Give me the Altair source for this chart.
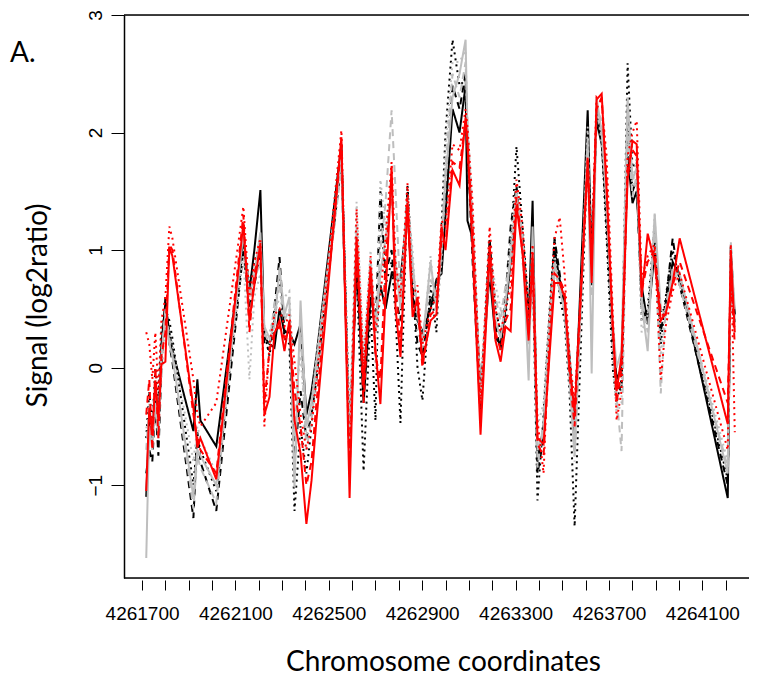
import altair as alt
import pandas as pd

# Probe positions (chromosome coordinates)
positions = [4261718, 4261731, 4261744, 4261757, 4261770, 4261783, 4261800, 4261817, 4261830,
             4261920, 4261937, 4261950, 4262018, 4262134, 4262160, 4262181, 4262207, 4262224, 4262246,
             4262267, 4262289, 4262310, 4262331, 4262353, 4262379, 4262404, 4262426, 4262447,
             4262554, 4262589, 4262619, 4262649, 4262679, 4262700, 4262721, 4262743, 4262769, 4262786, 4262807,
             4262837, 4262859, 4262880, 4262901, 4262936, 4262961, 4262983, 4263000, 4263030, 4263060, 4263086, 4263094,
             4263116, 4263150, 4263189, 4263214, 4263236, 4263257, 4263279, 4263304, 4263330, 4263356, 4263373, 4263394,
             4263420, 4263446, 4263467, 4263489, 4263510, 4263531, 4263553, 4263609, 4263626, 4263647, 4263669, 4263690, 4263716,
             4263733, 4263754, 4263780, 4263801, 4263819, 4263840, 4263866, 4263896, 4263922, 4263943, 4263973, 4264003,
             4264209, 4264222, 4264239]

black_solid = [-1.1, -0.4, -0.6, -0.2, -0.5, 0.2, 0.55, 0.3, 0.15, -0.54, -0.1, -0.45, -0.67,
               1.1, 0.65, 1.0, 1.51, 0.26, 0.2, 0.17, 0.5, 0.3, 0.3, 0.2, 0.37, -0.4, -0.2, 0.1,
               1.9, -0.8, 0.9, -0.3, 0.6, 0.4, 0.7, 0.5, 0.8, 0.75, 0.75,
               1.35, 0.6, 0.4, 0.3, 0.5, 0.75, 0.8, 1.3, 2.2, 2.0, 2.4, 1.25,
               1.1, -0.2, 0.8, 0.25, 0.2, 0.5, 0.9, 1.4, 1.1, 0.4, 1.42, -0.8,
               -0.5, 0.3, 1.0, 0.75, 0.55, 0.1, -0.5, 2.19, 0.9, 2.1, 1.9, 1.3, 0.3,
               -0.1, 0.0, 1.8, 1.4, 1.5, 0.7, 0.37, 1.0, 0.48, 0.5, 0.9, 0.77, -1.11, 0.9, 0.45]
black_dashed = [-0.9, -0.7, -0.8, -0.3, -0.75, 0.0, 0.6, 0.2, 0.05, -1.28, -0.55, -0.8, -1.22,
                1.0, 0.5, 0.7, 1.0, 0.2, 0.15, 0.5, 0.94, 0.3, 0.35, -0.8, -0.2, -0.6, -0.4, -0.1,
                1.75, -0.7, 1.0, -0.2, 0.7, 0.3, 1.5, 0.8, 1.0, 0.6, 0.4,
                1.5, 0.7, 0.2, 0.1, 0.6, 0.55, 1.0, 1.5, 2.4, 2.2, 2.5, 1.9,
                0.9, -0.4, 1.1, 0.35, 0.15, 0.6, 1.2, 1.55, 1.0, 0.3, 1.0, -0.9,
                -0.6, 0.4, 1.1, 0.8, 0.5, 0.0, -0.7, 2.0, 0.7, 2.2, 2.0, 1.2, 0.2,
                -0.15, -0.2, 2.2, 1.5, 1.6, 0.5, 0.4, 1.1, 0.3, 0.55, 1.1, 0.7, -1.0, 1.05, 0.4]
black_dotted = [-0.6, -0.2, -0.5, 0.0, -0.3, 0.3, 0.5, 0.4, 0.25, -1.0, -0.6, -0.7, -1.05,
                1.05, 0.7, 0.9, 1.05, 0.3, 0.1, 0.4, 0.8, 0.25, 0.2, -1.22, -0.5, -0.9, -0.5, 0.0,
                1.85, -0.5, 0.85, -0.88, 0.5, -0.45, 1.45, 0.7, 0.9, 0.45, -0.47,
                1.55, 0.8, 0.0, -0.28, 0.7, 0.3, 1.2, 2.0, 2.79, 2.4, 2.45, 1.8,
                1.1, -0.35, 1.0, 0.5, 0.3, 0.4, 1.0, 1.88, 1.2, 0.5, 0.9, -1.13,
                -0.4, 0.5, 1.11, 0.6, 0.4, -0.2, -1.35, 1.9, 1.0, 2.15, 1.95, 1.1, 0.0,
                -0.3, -0.1, 2.59, 1.7, 1.75, 0.4, 0.5, 1.2, 0.2, 0.6, 1.0, 0.75, -0.95, 0.95, 0.35]
gray_solid = [-1.62, -0.5, -0.7, -0.3, -0.6, 0.1, 0.45, 0.2, 0.1, -1.1, -0.7, -0.75, -1.0,
              1.15, 0.6, 0.8, 1.15, 0.35, 0.25, 0.35, 0.85, 0.45, 0.6, -1.02, 0.57, -0.5, -0.3, 0.05,
              1.8, -0.75, 1.2, -0.1, 0.9, 0.3, 0.8, 1.1, 1.5, 0.9, 0.5,
              1.45, 0.9, 0.45, 0.2, 0.9, 0.5, 1.0, 1.6, 2.3, 2.5, 2.79, 2.0,
              1.2, -0.3, 0.9, 0.4, 0.25, 0.55, 0.95, 1.5, 1.05, -0.11, 1.2, -0.7,
              -0.55, 0.4, 0.9, 0.65, 0.5, -0.1, -0.75, 1.95, -0.05, 2.3, 2.0, 1.4, 0.4,
              0.0, 0.15, 2.3, 1.6, 1.7, 0.55, 0.14, 1.31, 0.5, 0.45, 0.8, 0.8, -0.9, 1.0, 0.5]
gray_dashed = [-0.7, -0.3, -0.6, -0.2, -0.5, 0.1, 0.5, 0.25, 0.1, -1.2, -0.75, -0.85, -1.15,
               1.2, 0.4, 0.75, 0.9, 0.3, 0.2, 0.55, 0.7, 0.4, 0.5, -0.6, 0.3, -0.7, -0.45, -0.05,
               1.7, -0.6, 1.1, 0.0, 0.85, 0.35, 1.0, 1.4, 2.19, 1.5, 0.6,
               1.3, 0.8, 0.5, 0.25, 0.75, 0.6, 1.1, 1.7, 2.5, 2.3, 2.6, 2.1,
               1.3, -0.25, 0.85, 0.6, 0.4, 0.7, 0.9, 1.45, 1.15, 0.2, 0.8, -0.85,
               -0.45, 0.35, 0.8, 0.7, 0.6, 0.05, -0.6, 1.85, 0.6, 2.2, 2.1, 1.45, 0.25,
               -0.25, -0.71, 2.0, 1.45, 1.65, 0.6, 0.3, 1.15, -0.22, 0.5, 0.85, 0.7, -0.85, 1.08, 0.4]
gray_dotted = [-0.5, -0.6, -0.4, -0.1, -0.4, -0.1, 0.4, 0.3, 0.2, -0.8, -0.5, -0.6, -0.9,
               0.95, -0.1, 0.6, 0.8, 0.25, 0.3, 0.45, 0.6, 0.6, 0.65, -0.3, 0.1, -0.6, -0.3, 0.1,
               1.75, -0.5, 1.41, 0.1, 1.0, 0.0, 1.6, 1.2, 1.6, 0.8, 0.7,
               1.4, 1.0, 0.3, 0.15, 0.95, 0.4, 0.9, 1.9, 2.6, 2.6, 2.7, 2.0,
               1.0, -0.1, 0.95, 0.7, 0.5, 0.6, 1.1, 1.6, 0.9, 0.35, 0.7, -0.5,
               -0.3, 0.5, 0.95, 0.7, 0.45, 0.1, -0.8, 2.05, 0.8, 2.25, 1.9, 1.2, 0.1,
               -0.4, -0.3, 2.1, 1.55, 1.8, 0.3, 0.45, 1.3, 0.1, 0.55, 0.75, 0.75, -0.8, 0.9, 0.3]
red_solid = [-1.05, -0.34, -0.57, -0.11, -0.45, 0.03, 0.05, 1.02, 0.95, -0.34, -0.68, -0.6, -0.95,
             1.23, 0.4, 0.7, 1.06, -0.4, -0.25, 0.29, 0.4, 0.14, 0.4, -0.45, -0.73, -1.33, -0.96, -0.45,
             1.96, -1.11, 1.11, -0.17, 0.85, 0.15, -0.31, 0.6, 1.71, 0.5, 0.09,
             1.4, 0.43, 0.6, 0.05, 0.4, 0.45, 1.2, 1.0, 1.68, 1.55, 2.13, 1.9,
             1.0, -0.57, 0.97, 0.23, 0.05, 0.35, 0.31, 1.38, 0.97, 0.23, 0.97, -0.6,
             -0.65, 0.12, 0.72, 0.72, 0.6, 0.0, -0.37, 1.76, 0.72, 2.28, 2.33, 1.51, 0.37,
             -0.2, 0.1, 1.6, 1.93, 1.9, 0.6, 1.14, 0.9, 0.4, 0.46, 0.72, 1.1, -0.48, 1.0, 0.3]
red_dashed = [-0.4, -0.1, -0.7, 0.0, -0.6, 0.1, 0.3, 1.05, 1.0, -0.4, -0.6, -0.7, -0.9,
              1.3, 0.3, 0.8, 1.0, -0.3, 0.15, 0.3, 0.35, 0.25, 0.35, -0.2, -0.5, -1.0, -0.8, -0.3,
              1.9, -0.9, 1.0, -0.3, 0.8, 0.1, -0.1, 0.9, 1.6, 0.7, 0.2,
              1.45, 0.5, 0.55, 0.0, 0.45, 0.5, 1.1, 1.05, 1.75, 1.7, 2.1, 1.9,
              1.2, -0.45, 1.05, 0.3, 0.15, 0.4, 0.5, 1.45, 1.0, 0.3, 0.9, -0.65,
              -0.75, 0.2, 0.8, 0.75, 0.65, -0.05, -0.5, 1.8, 0.9, 2.2, 2.3, 1.6, 0.35,
              -0.3, 0.0, 1.7, 1.85, 1.8, 0.65, 0.9, 1.0, 0.45, 0.45, 0.7, 0.9, -0.3, 0.8, 0.2]
red_dotted = [0.3, 0.2, -0.1, 0.3, -0.2, 0.4, 0.6, 1.2, 1.1, -0.1, -0.4, -0.5, -0.3,
              1.37, 0.6, 0.9, 1.1, -0.5, 0.2, 0.45, 0.5, 0.35, 0.45, 0.05, -0.4, -0.7, -0.5, -0.1,
              2.02, -0.8, 1.35, 0.0, 0.95, 0.3, 0.6, 1.1, 1.75, 0.9, 0.6,
              1.57, 0.6, 0.7, 0.2, 0.5, 0.6, 1.25, 1.2, 1.9, 1.85, 2.2, 2.05,
              1.4, -0.3, 1.2, 0.5, 0.3, 0.5, 0.7, 1.6, 1.2, 0.45, 1.05, -0.45,
              -0.9, 0.4, 1.1, 1.28, 0.8, 0.1, -0.3, 1.7, 1.0, 2.3, 2.25, 1.8, 0.5,
              -0.45, -0.2, 1.8, 2.0, 2.1, 0.75, 0.95, 1.05, -0.1, 0.35, 0.65, 0.8, -0.7, 1.05, -0.55]

series_names = ["black_solid", "black_dashed", "black_dotted",
                "gray_solid", "gray_dashed", "gray_dotted",
                "red_solid", "red_dashed", "red_dotted"]
series_values = [black_solid, black_dashed, black_dotted,
                 gray_solid, gray_dashed, gray_dotted,
                 red_solid, red_dashed, red_dotted]
series_colors = ["#000000", "#000000", "#000000",
                 "#BEBEBE", "#BEBEBE", "#BEBEBE",
                 "#FF0000", "#FF0000", "#FF0000"]
dash_solid = [1, 0]
dash_dashed = [7, 5]
dash_dotted = [2, 4]
series_dashes = [dash_solid, dash_dashed, dash_dotted] * 3

x_ticks = list(range(4261700, 4264301, 100))
y_ticks = [-1, 0, 1, 2, 3]

rows = []
for name, vals in zip(series_names, series_values):
    for p, v in zip(positions, vals):
        rows.append({"pos": p, "signal": v, "series": name})
df = pd.DataFrame(rows)

W, H = 625, 563

x_enc = alt.X("pos:Q",
              scale=alt.Scale(domain=[4261622.7, 4264300], nice=False, zero=False),
              axis=alt.Axis(values=x_ticks, format="d",
                            labelExpr="(datum.value - 4261700) % 400 == 0 ? datum.label : ''",
                            domain=False, offset=2, tickSize=10, tickColor="black", tickWidth=1,
                            labelPadding=14, labelFont="Liberation Sans", labelFontSize=19,
                            labelColor="black", labelFlush=False, labelOverlap=False, grid=False,
                            title="Chromosome coordinates", titleFont="Lato", titleFontSize=28,
                            titleFontWeight="normal", titleColor="black",
                            titleX=319, titleY=90, titleBaseline="alphabetic", titleAlign="center"))
y_enc = alt.Y("signal:Q",
              scale=alt.Scale(domain=[-1.79, 3.0], nice=False, zero=False),
              axis=alt.Axis(values=y_ticks, format="d", domain=True, domainColor="black",
                            domainWidth=1.5, tickSize=13, tickColor="black", tickWidth=1,
                            labelAngle=270, labelAlign="center", labelBaseline="bottom",
                            labelPadding=6, labelFont="Liberation Sans", labelFontSize=19,
                            labelColor="black", labelFlush=False, grid=False,
                            title="Signal (log2ratio)", titleFont="Lato", titleFontSize=28,
                            titleFontWeight="normal", titleColor="black",
                            titleAngle=270, titleX=-86, titleY=290,
                            titleAlign="center", titleBaseline="middle"))

layers = []
for name, col, dash in zip(series_names, series_colors, series_dashes):
    layers.append(
        alt.Chart(df)
        .transform_filter(alt.datum.series == name)
        .mark_line(color=col, strokeDash=dash, strokeWidth=2, clip=True)
        .encode(x=x_enc, y=y_enc, order="pos:Q")
    )

frame_df = pd.DataFrame({"k": [0]})
top_rule = alt.Chart(frame_df).mark_rule(color="black", strokeWidth=1.5).encode(
    x=alt.value(0), x2=alt.value(W), y=alt.value(0))
bottom_rule = alt.Chart(frame_df).mark_rule(color="black", strokeWidth=1.5).encode(
    x=alt.value(0), x2=alt.value(W), y=alt.value(H))

chart = alt.layer(*layers, top_rule, bottom_rule).properties(
    width=W, height=H,
    autosize=alt.AutoSizeParams(type="none"),
    padding={"left": 116, "top": 7, "right": 0, "bottom": 97},
    title=alt.TitleParams(text="A.", anchor="start", frame="group", font="Lato",
                          fontSize=28, fontWeight="normal", color="black",
                          baseline="alphabetic", dx=-114, dy=84),
).configure_view(strokeWidth=0).configure(background="white")

chart.save("out.html", embed_options={"renderer": "svg", "actions": False})
